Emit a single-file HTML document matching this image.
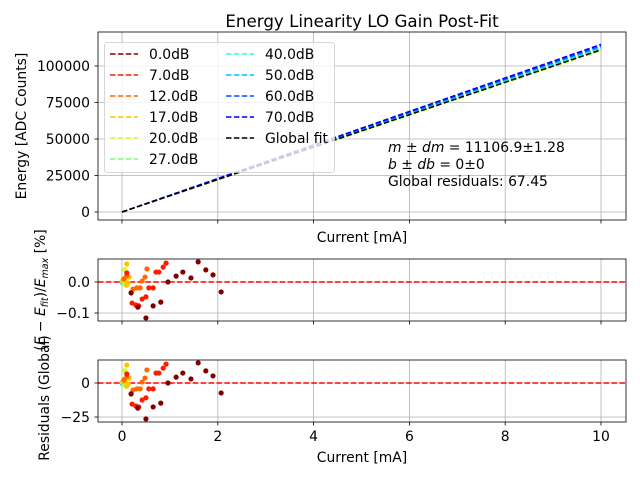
<!DOCTYPE html>
<html><head><meta charset="utf-8"><style>
body{margin:0;background:#fff}
svg{display:block;font-family:"DejaVu Sans","Liberation Sans",sans-serif}
</style></head><body>
<svg id="c" width="640" height="480" viewBox="0 0 640 480" xmlns="http://www.w3.org/2000/svg"></svg>
<script>
const gains=["0.0dB","7.0dB","12.0dB","17.0dB","20.0dB","27.0dB","40.0dB","50.0dB","60.0dB","70.0dB"];
const colors=["#800000","#ff1a00","#ff6a00","#ffc400","#d4ff23","#7dff7a","#29ffce","#00c0ff","#0050ff","#0000f1"];
const slopes=[111500,111800,111200,110800,110500,111000,112000,112800,113800,114800];
const globalSlope=11106.9*10;
const mainYTicks=[0,25000,50000,75000,100000];
const xTicks=[0,2,4,6,8,10];
const relTicks=[-0.1,0.0];
const globTicks=[-25,0];
const resX=[
[0.19,0.33,0.50,0.65,0.81,0.96,1.13,1.27,1.44,1.59,1.75,1.90,2.07],
[0.10,0.21,0.29,0.35,0.42,0.50,0.56,0.65,0.71,0.77,0.86,0.92],
[0.04,0.10,0.19,0.23,0.31,0.38,0.42,0.48,0.52],
[0.02,0.06,0.10,0.13,0.15,0.10],
[0.02,0.04,0.06,0.08],
[0.01,0.03,0.05],
[0.005,0.015,0.03],
[0.004,0.01,0.02],
[0.003,0.008,0.015],
[0.002,0.006,0.012]];
const resRel=[
[-0.035,-0.081,-0.116,-0.077,-0.065,0.0,0.019,0.032,0.013,0.065,0.039,0.023,-0.032],
[0.029,-0.068,-0.074,-0.077,-0.055,-0.048,-0.019,-0.019,0.032,0.032,0.048,0.061],
[0.01,0.02,-0.035,-0.023,-0.019,-0.019,0.003,0.016,0.042],
[0.005,0.006,-0.010,-0.003,0.016,0.058],
[0.003,0.012,0.040,-0.01],
[0.002,0.008,-0.003],
[0.001,0.004,-0.002],
[0.001,0.003,-0.001],
[0.0,0.002,-0.001],
[0.0,0.001,0.0]];
const resGlob=[
[-8,-18.5,-26.4,-17.6,-14.8,0,4.3,7.3,3,14.8,8.9,5.2,-7.3],
[6.6,-15.5,-16.9,-17.6,-12.5,-10.9,-4.3,-4.3,7.3,7.3,10.9,13.9],
[2.3,4.6,-8,-5.2,-4.3,-4.3,0.7,3.6,9.6],
[1.1,1.4,-2.3,-0.7,3.6,13.2],
[0.7,2.7,9.1,-2.3],
[0.5,1.8,-0.7],
[0.2,0.9,-0.5],
[0.2,0.7,-0.2],
[0,0.5,-0.2],
[0,0.2,0]];

const svg=document.getElementById('c');
const NS="http://www.w3.org/2000/svg";
function mk(t,a,p){const e=document.createElementNS(NS,t);for(const k in a)e.setAttribute(k,a[k]);(p||svg).appendChild(e);return e;}
const L=98,R=626;
const FS=13.9;
const sx=v=>122+(v-0)*(601-122)/10;
const syMain=v=>212-v*(212-66)/100000;
const syRelF=v=>282+(-v)*(31/0.1);
const syGlob=v=>383-v*(34/25);

function axesFrame(top,bot,name,yt,yf,fmt,showXLabels){
  const g=mk('g',{});
  
  
  xTicks.forEach(t=>{
    const l=mk('line',{x1:sx(t),x2:sx(t),y1:top,y2:bot,stroke:'#b0b0b0','stroke-width':0.8},g);
    
    mk('line',{x1:sx(t),x2:sx(t),y1:bot,y2:bot+3.5,stroke:'#000','stroke-width':0.8},g);
    if(showXLabels){const tx=mk('text',{x:sx(t),y:bot+19,'font-size':FS,'text-anchor':'middle'},g);tx.textContent=t;
      }
  });
  yt.forEach(t=>{
    const y=yf(t);
    const l=mk('line',{x1:L,x2:R,y1:y,y2:y,stroke:'#b0b0b0','stroke-width':0.8},g);
    
    mk('line',{x1:L-3.5,x2:L,y1:y,y2:y,stroke:'#000','stroke-width':0.8},g);
    const tx=mk('text',{x:L-8,y:y+5,'font-size':FS,'text-anchor':'end'},g);tx.textContent=fmt(t);
    
  });
  return g;
}
function border(top,bot){const r=mk('rect',{x:L,y:top,width:R-L,height:bot-top,fill:'none',stroke:'#000','stroke-width':0.8});
  }

// main
axesFrame(32,220,'main-axes',mainYTicks,syMain,t=>String(t),false);
slopes.forEach((s,i)=>{
  const l=mk('line',{x1:sx(0),y1:syMain(0),x2:sx(10),y2:syMain(s),stroke:colors[i],'stroke-width':1.5,'stroke-dasharray':'5.5,2.4'});
  
});
const gl=mk('line',{x1:sx(0),y1:syMain(0),x2:sx(10),y2:syMain(globalSlope),stroke:'#000','stroke-width':1.5,'stroke-dasharray':'5.5,2.4'});

border(32,220);
// legend
const lg=mk('g',{});

mk('rect',{x:104.5,y:42.5,width:230,height:130,rx:3,fill:'#fff','fill-opacity':0.8,stroke:'#ccc','stroke-width':0.8},lg);
const labels=gains.concat(['Global fit']);const lcols=colors.concat(['#000']);
labels.forEach((lab,i)=>{
  const col=i<6?0:1,row=i<6?i:i-6;
  const x0=col?226:110,y=54+row*21;
  const e=mk('g',{},lg);
  
  mk('line',{x1:x0,x2:x0+28,y1:y,y2:y,stroke:lcols[i],'stroke-width':1.5,'stroke-dasharray':'5.5,2.4'},e);
  const t=mk('text',{x:x0+39,y:y+5,'font-size':FS},e);t.textContent=lab;
});
// annotation
let t=mk('text',{x:388,y:152,'font-size':FS});
t.innerHTML='<tspan font-style="italic">m</tspan> ± <tspan font-style="italic">dm</tspan> = 11106.9±1.28';

t=mk('text',{x:388,y:169,'font-size':FS});
t.innerHTML='<tspan font-style="italic">b</tspan> ± <tspan font-style="italic">db</tspan> = 0±0';

t=mk('text',{x:388,y:186,'font-size':FS});t.textContent='Global residuals: 67.45';

// titles
t=mk('text',{x:362,y:27,'font-size':16.7,'text-anchor':'middle'});t.textContent='Energy Linearity LO Gain Post-Fit';

t=mk('text',{x:362,y:242,'font-size':FS,'text-anchor':'middle'});t.textContent='Current [mA]';

t=mk('text',{x:0,y:0,'font-size':FS,'text-anchor':'middle',transform:'translate(26,126) rotate(-90)'});t.textContent='Energy [ADC Counts]';


// residual panels
function resPanel(top,bot,name,ticks,yf,fmt,vals,showX){
  axesFrame(top,bot,name,ticks,yf,fmt,showX);
  const z=mk('line',{x1:L,x2:R,y1:yf(0),y2:yf(0),stroke:'#ff0000','stroke-width':1.5,'stroke-dasharray':'5.5,2.4'});
  
  for(let i=vals.length-1;i>=0;i--){
    vals[i].forEach((v,j)=>{
      const c=mk('circle',{cx:sx(resX[i][j]),cy:yf(v),r:2.6,fill:colors[i]});
      
      
    });
  }
  border(top,bot);
}
resPanel(259,321,'relative-residual-axes',relTicks,syRelF,t=>t.toFixed(1).replace('-','−'),resRel,false);
resPanel(360,422,'global-residual-axes',globTicks,syGlob,t=>String(t).replace('-','−'),resGlob,true);
t=mk('text',{x:0,y:0,'font-size':FS,'text-anchor':'middle',transform:'translate(45,290) rotate(-90)'});
t.innerHTML='(<tspan font-style="italic">E</tspan> − <tspan font-style="italic">E</tspan><tspan font-size="9.5" dy="3" font-style="italic">fit</tspan><tspan dy="-3">)/</tspan><tspan font-style="italic">E</tspan><tspan font-size="9.5" dy="3" font-style="italic">max</tspan><tspan dy="-3"> [%]</tspan>';

t=mk('text',{x:0,y:0,'font-size':FS,'text-anchor':'middle',transform:'translate(49,398) rotate(-90)'});t.textContent='Residuals (Global)';

t=mk('text',{x:362,y:462,'font-size':FS,'text-anchor':'middle'});t.textContent='Current [mA]';

</script>
</body></html>
